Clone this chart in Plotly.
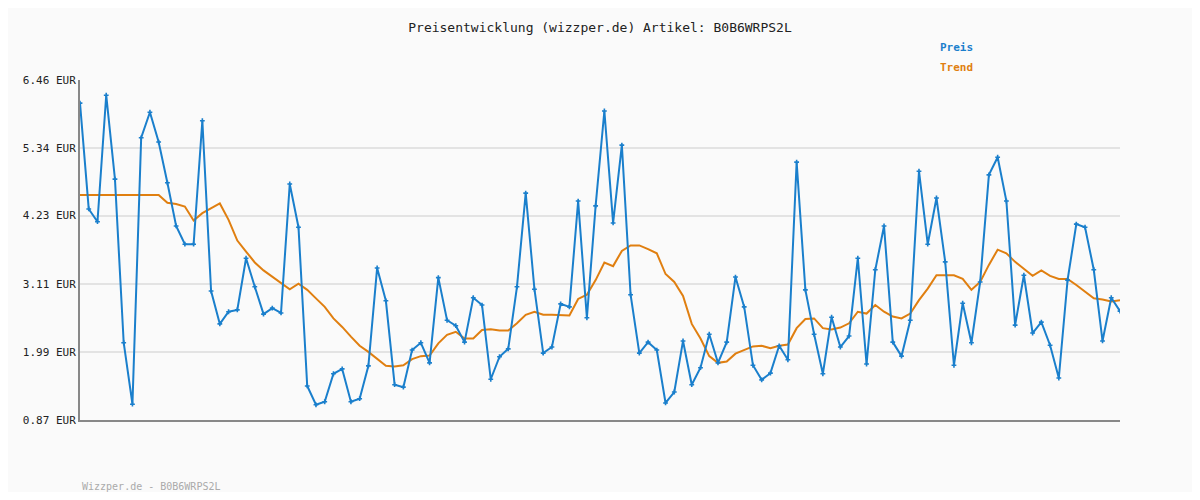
import plotly.graph_objects as go

preis = [6.08, 4.34, 4.13, 6.21, 4.83, 2.14, 1.13, 5.51, 5.93, 5.44,
         4.77, 4.06, 3.76, 3.76, 5.79, 2.99, 2.45, 2.65, 2.68, 3.53,
         3.06, 2.61, 2.71, 2.63, 4.75, 4.04, 1.43, 1.12, 1.17, 1.63,
         1.71, 1.17, 1.22, 1.76, 3.37, 2.83, 1.45, 1.41, 2.02, 2.14,
         1.81, 3.21, 2.51, 2.42, 2.15, 2.88, 2.76, 1.54, 1.91, 2.04,
         3.06, 4.60, 3.02, 1.97, 2.07, 2.78, 2.73, 4.47, 2.55, 4.39,
         5.95, 4.11, 5.39, 2.93, 1.97, 2.15, 2.02, 1.15, 1.33, 2.17,
         1.45, 1.73, 2.28, 1.81, 2.15, 3.22, 2.73, 1.77, 1.53,
         1.64, 2.09, 1.86, 5.11, 3.01, 2.28, 1.63, 2.56, 2.07, 2.25,
         3.53, 1.79, 3.34, 4.06, 2.15, 1.92, 2.51, 4.96, 3.76, 4.52,
         3.47, 1.77, 2.79, 2.14, 3.14, 4.90, 5.19, 4.47, 2.43, 3.25,
         2.30, 2.48, 2.10, 1.56, 3.17, 4.09, 4.04, 3.34, 2.17, 2.88, 2.66]

trend = [4.57] * 10 + [
    4.44, 4.42, 4.38, 4.15, 4.27, 4.35, 4.43, 4.16, 3.82, 3.64,
    3.46, 3.33, 3.23, 3.12, 3.02, 3.11, 3.01, 2.87, 2.73, 2.54,
    2.40, 2.24, 2.09, 1.99, 1.87, 1.76, 1.75, 1.77, 1.87, 1.92,
    1.93, 2.13, 2.27, 2.32, 2.21, 2.21, 2.35, 2.36, 2.34, 2.34,
    2.46, 2.60, 2.65, 2.60, 2.60, 2.59, 2.59, 2.86, 2.93, 3.17,
    3.46, 3.40, 3.65, 3.74, 3.74, 3.68, 3.61, 3.27, 3.14, 2.91,
    2.45, 2.21, 1.92, 1.81, 1.83, 1.96, 2.02, 2.08, 2.09,
    2.05, 2.09, 2.11, 2.38, 2.53, 2.54, 2.38, 2.36, 2.39, 2.46,
    2.65, 2.62, 2.76, 2.65, 2.57, 2.54, 2.62, 2.84, 3.03, 3.25,
    3.25, 3.25, 3.19, 3.01, 3.14, 3.42, 3.67, 3.61, 3.47, 3.35,
    3.24, 3.33, 3.24, 3.19, 3.19, 3.09, 2.98, 2.87, 2.85, 2.82, 2.84]

y_ticks = [0.87, 1.99, 3.11, 4.23, 5.34, 6.46]
y_labels = ["%.2f EUR" % v for v in y_ticks]

blue = "#1a7fcc"
orange = "#e07f10"
mono = "DejaVu Sans Mono"
x = list(range(len(preis)))

fig = go.Figure()
fig.add_trace(go.Scatter(x=x, y=trend, mode="lines", name="Trend",
                         line=dict(color=orange, width=2)))
fig.add_trace(go.Scatter(x=x, y=preis, mode="lines+markers", name="Preis",
                         line=dict(color=blue, width=2),
                         marker=dict(symbol="cross", size=4, color=blue)))

# page body has 8px margin, so figure is slightly smaller and shifted
fig.update_layout(
    width=1184, height=484,
    margin=dict(l=72, r=72, t=72, b=72),
    paper_bgcolor="#fafafa", plot_bgcolor="#fafafa",
    showlegend=False,
    font=dict(family=mono, size=11, color="#333"),
    title=dict(text="Preisentwicklung (wizzper.de) Artikel: B0B6WRPS2L",
               x=0.5, xref="paper", y=0.959, xanchor="center", yanchor="middle",
               font=dict(family=mono, size=13, color="#222")),
)
fig.update_xaxes(range=[0, len(preis) - 1], showticklabels=False, showgrid=False,
                 zeroline=False, showline=True, linecolor="#888", linewidth=2)
fig.update_yaxes(range=[0.87, 6.46], tickvals=y_ticks, ticktext=y_labels,
                 showgrid=True, gridcolor="#e3e3e3", gridwidth=2, zeroline=False,
                 showline=True, linecolor="#888", linewidth=2, ticks="",
                 tickfont=dict(family=mono, size=11, color="#222"))

fig.add_annotation(text="<b>Preis</b>", xref="paper", yref="paper", x=0.843, y=1.097,
                   xanchor="center", yanchor="middle", showarrow=False,
                   font=dict(color=blue, size=11, family=mono))
fig.add_annotation(text="<b>Trend</b>", xref="paper", yref="paper", x=0.843, y=1.038,
                   xanchor="center", yanchor="middle", showarrow=False,
                   font=dict(color=orange, size=11, family=mono))
fig.add_annotation(text="Wizzper.de - B0B6WRPS2L", xref="paper", yref="paper", x=0, y=-0.197,
                   xanchor="left", yanchor="middle", showarrow=False,
                   font=dict(color="#aaa", size=10, family=mono))

fig.write_html("out.html")
